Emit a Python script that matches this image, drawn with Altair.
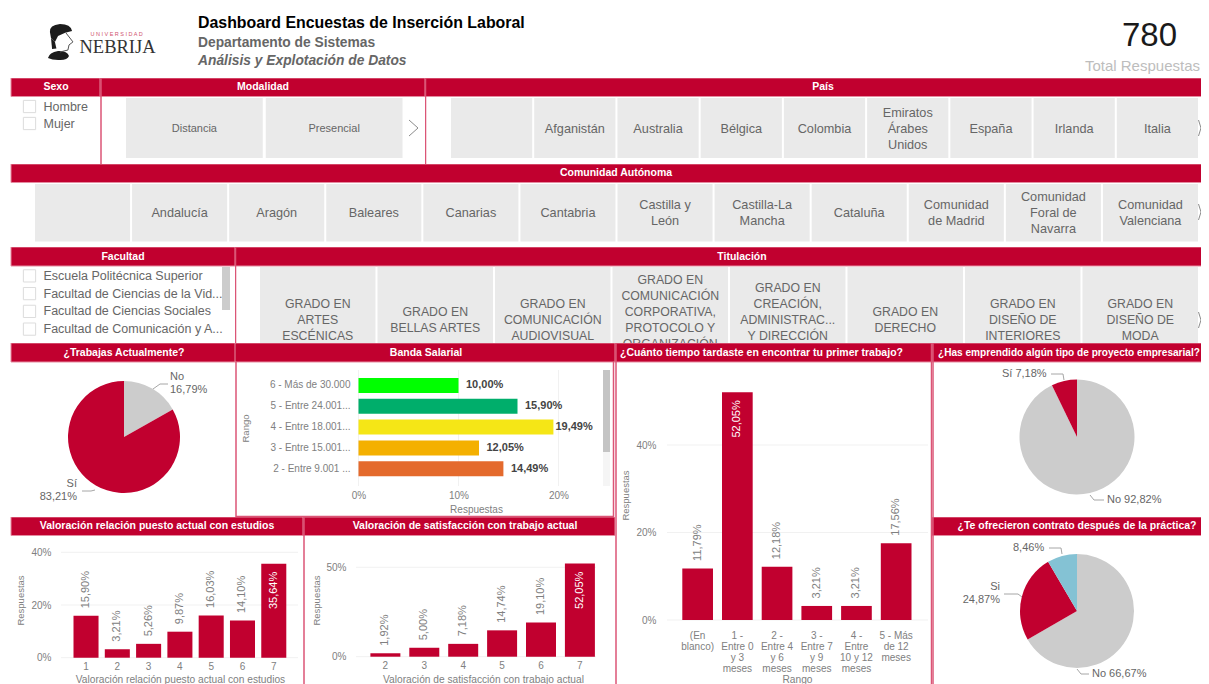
import altair as alt
import pandas as pd

FONT = "Liberation Sans"
RED = "#C1002F"
EDGE = "#E58BA0"
LINE = "#DB5576"
GREY = "#666666"
AX = "#808080"
TILE = "#EAEAEA"

sexo = ["Hombre", "Mujer"]
modalidad = ["Distancia", "Presencial"]
pais = [" ", "Afganistán", "Australia", "Bélgica", "Colombia", "Emiratos\nÁrabes\nUnidos", "España", "Irlanda", "Italia"]
comunidad = [" ", "Andalucía", "Aragón", "Baleares", "Canarias", "Cantabria", "Castilla y\nLeón", "Castilla-La\nMancha",
             "Cataluña", "Comunidad\nde Madrid", "Comunidad\nForal de\nNavarra", "Comunidad\nValenciana"]
facultad = ["Escuela Politécnica Superior", "Facultad de Ciencias de la Vid...", "Facultad de Ciencias Sociales",
            "Facultad de Comunicación y A..."]
titulacion = ["GRADO EN\nARTES\nESCÉNICAS", "GRADO EN\nBELLAS ARTES", "GRADO EN\nCOMUNICACIÓN\nAUDIOVISUAL",
              "GRADO EN\nCOMUNICACIÓN\nCORPORATIVA,\nPROTOCOLO Y\nORGANIZACIÓN\n ",
              "GRADO EN\nCREACIÓN,\nADMINISTRAC...\nY DIRECCIÓN\n ", "GRADO EN\nDERECHO",
              "GRADO EN\nDISEÑO DE\nINTERIORES", "GRADO EN\nDISEÑO DE\nMODA"]

trabajas_l = ["No", "Sí"]
trabajas_v = [16.79, 83.21]
emprend_l = ["No", "Sí"]
emprend_v = [92.82, 7.18]
contrato_l = ["No", "Si", "Otro"]
contrato_v = [66.67, 24.87, 8.46]

banda_c = ["6 - Más de 30.000", "5 - Entre 24.001...", "4 - Entre 18.001...", "3 - Entre 15.001...", "2 - Entre 9.001 ..."]
banda_v = [10.00, 15.90, 19.49, 12.05, 14.49]
banda_col = ["#00FF00", "#00AE6B", "#F5E616", "#F4B000", "#E46A2D"]

tiempo_c = ["(En\nblanco)", "1 -\nEntre 0\ny 3\nmeses", "2 -\nEntre 4\ny 6\nmeses", "3 -\nEntre 7\ny 9\nmeses",
            "4 -\nEntre\n10 y 12\nmeses", "5 - Más\nde 12\nmeses"]
tiempo_v = [11.79, 52.05, 12.18, 3.21, 3.21, 17.56]
val1_c = ["1", "2", "3", "4", "5", "6", "7"]
val1_v = [15.90, 3.21, 5.26, 9.87, 16.03, 14.10, 35.64]
val2_c = ["2", "3", "4", "5", "6", "7"]
val2_v = [1.92, 5.00, 7.18, 14.74, 19.10, 52.05]

ONE = pd.DataFrame({"k": [1]})
W = 1193  # the page leaves 1193 px for the svg; a wider one gets shrunk
RIGHT = 8 + W


def pct(v):
    return f"{v:.2f}".replace(".", ",") + "%"


def T(o, s, x, y, size=11, color=GREY, weight="normal", align="left", style="normal", font=FONT):
    return alt.Chart(ONE).mark_text(
        text=s, fontSize=size, color=color, fontWeight=weight, align=align, fontStyle=style,
        font=font, baseline="middle", clip=True,
    ).encode(x=alt.value(x - o[0]), y=alt.value(y - o[1]))


def R(o, x1, y1, x2, y2, fill, stroke=None):
    kw = {"stroke": stroke, "strokeWidth": 1} if stroke else {}
    return alt.Chart(ONE).mark_rect(color=fill, clip=True, **kw).encode(
        x=alt.value(x1 - o[0]), x2=alt.value(x2 - o[0]), y=alt.value(y1 - o[1]), y2=alt.value(y2 - o[1]))


def L(o, pts, color="#A6A6A6", w=1):
    out = []
    for (a, b), (c, d) in zip(pts[:-1], pts[1:]):
        out.append(alt.Chart(ONE).mark_rule(color=color, strokeWidth=w, clip=True).encode(
            x=alt.value(a - o[0]), x2=alt.value(c - o[0]), y=alt.value(b - o[1]), y2=alt.value(d - o[1])))
    return out


def band(o, x1, y1, x2, y2, title, tx, align="center", size=10.5):
    return [R(o, x1, y1, x2, y2, RED, EDGE),
            T(o, title, tx, (y1 + y2) / 2, size=size, color="#FFFFFF", weight="bold", align=align)]


def chevron(o, x, y, w=9, h=8):
    return L(o, [(x, y - h), (x + w, y), (x, y + h)], "#8C8C8C", 1)


def tiles(o, names, x0, x1, gap, y0, y1, cy, size=12.7, lh=16):
    step = (x1 - x0) / len(names)
    sc = alt.Scale(type="band", domain=names, range=[x0 - o[0], x1 - o[0]], paddingInner=gap / step, paddingOuter=0)
    df = pd.DataFrame({"n": names, "lines": [n.count("\n") + 1 for n in names]})
    x = alt.X("n:N", sort=None, scale=sc, axis=None)
    out = [alt.Chart(df).mark_rect(color=TILE, clip=True).encode(x=x, y=alt.value(y0 - o[1]), y2=alt.value(y1 - o[1]))]
    for k in sorted(df["lines"].unique()):
        out.append(alt.Chart(df[df["lines"] == k]).mark_text(
            fontSize=size, color=GREY, font=FONT, lineBreak="\n", lineHeight=lh, baseline="middle", clip=True,
            dy=-(int(k) - 1) * lh / 2).encode(x=x, y=alt.value(cy + 0.6 - o[1]), text="n:N"))
    return out


def checklist(o, names, y0, y1, size=12.5):
    sc = alt.Scale(type="band", domain=names, range=[y0 - o[1], y1 - o[1]], paddingInner=0, paddingOuter=0)
    df = pd.DataFrame({"n": names})
    y = alt.Y("n:N", sort=None, scale=sc, axis=None)
    return [
        alt.Chart(df).mark_point(shape="square", size=150, color="#CFCFCF", strokeWidth=1, filled=False).encode(
            x=alt.value(29.5 - o[0]), y=y),
        alt.Chart(df).mark_text(fontSize=size, color=GREY, font=FONT, align="left", baseline="middle", clip=True).encode(
            x=alt.value(43.5 - o[0]), y=y, text="n:N"),
    ]


def pie(o, labels, vals, colors, cx, cy, r):
    df = pd.DataFrame({"l": labels, "v": vals, "i": range(len(vals))})
    return alt.Chart(df).mark_arc(outerRadius=r).encode(
        theta=alt.Theta("v:Q", stack=True),
        order=alt.Order("i:Q"),
        color=alt.Color("l:N", scale=alt.Scale(domain=labels, range=colors), legend=None),
        x=alt.value(cx - o[0]), y=alt.value(cy - o[1]),
    )


def vbars(o, view_h, cats, vals, x0, x1, pad, y0, ytop, dom, ticks, gx0, gx1, lab_x, title_x, title_y, xtitle, xt_x, xt_y,
          xlab_pad=4, multiline=False):
    ys = alt.Scale(domain=dom, range=[y0 - o[1], ytop - o[1]], nice=False, zero=True)
    xs = alt.Scale(type="band", domain=cats, range=[x0 - o[0], x1 - o[0]], paddingInner=pad, paddingOuter=0)
    df = pd.DataFrame({"c": cats, "v": vals, "t": [pct(v) for v in vals]})
    top = max(vals)
    xkw = {"labelExpr": 'split(datum.label, "\\n")', "labelLineHeight": 11} if multiline else {}
    xax = alt.Axis(title=xtitle, ticks=False, domain=False, grid=False, labelAngle=0, labelColor=AX, labelFont=FONT,
                   labelFontSize=10, labelPadding=xlab_pad, labelBaseline="top", labelOverlap=False, labelLimit=400,
                   titleColor=AX, titleFont=FONT, titleFontSize=10.2, titleFontWeight="normal", titleBaseline="middle",
                   titleX=xt_x - o[0], titleY=xt_y - y0, offset=(y0 - o[1]) - view_h, **xkw)
    yax = alt.Axis(title="Respuestas", ticks=False, domain=False, grid=False, values=ticks,
                   labelExpr="datum.value + '%'", labelColor=AX, labelFont=FONT, labelFontSize=10, labelPadding=0,
                   titleColor=AX, titleFont=FONT, titleFontSize=9.5, titleFontWeight="normal", titleBaseline="middle",
                   titleX=title_x - lab_x, titleY=title_y - o[1], offset=-(lab_x - o[0]))
    x = alt.X("c:N", sort=None, scale=xs, axis=xax)
    y = alt.Y("v:Q", scale=ys, axis=yax)
    grid = alt.Chart(pd.DataFrame({"g": ticks})).mark_rule(color="#F1F1F1", strokeWidth=1).encode(
        y=alt.Y("g:Q", scale=ys, axis=yax), x=alt.value(gx0 - o[0]), x2=alt.value(gx1 - o[0]))
    bars = alt.Chart(df).mark_bar(color=RED).encode(x=x, y=y)
    out_l = alt.Chart(df[df.v < top]).mark_text(angle=270, align="left", baseline="middle", dx=7.5, fontSize=11,
                                                color=AX, font=FONT).encode(x=x, y=y, text="t:N")
    in_l = alt.Chart(df[df.v == top]).mark_text(angle=270, align="right", baseline="middle", dx=-8, fontSize=11,
                                                color="#FFFFFF", font=FONT).encode(x=x, y=y, text="t:N")
    return [grid, bars, out_l, in_l]


def panel(layers, w, h):
    flat = []
    for l in layers:
        if isinstance(l, list):
            flat.extend(l)
        else:
            flat.append(l)
    return alt.layer(*flat).properties(width=w, height=h)


def H(*c):
    return alt.hconcat(*c, spacing=0).resolve_scale(color="independent")


def V(*c):
    return alt.vconcat(*c, spacing=0).resolve_scale(color="independent")


# ---------- header
o = (8, 8)
logo = [
    alt.Chart(ONE).mark_point(shape=p, size=1296, filled=True, color="#1C1C1C", opacity=1).encode(
        x=alt.value(60 - 8), y=alt.value(43 - 8))
    for p in ["M-.56,-.61 Q-.6,-1 0,-1.06 Q.6,-1.06 .67,-.67 Q.3,-.62 -.11,-.39 L-.28,-.06 L-.5,-.28 Z",
              "M-.67,.83 Q-.6,.52 -.11,.44 Q.4,.42 .5,.72 Q.4,.98 -.1,.94 Q-.45,.94 -.67,.83 Z",
              "M-.5,-.28 L-.28,-.06 L-.2,.3 L-.44,.33 Z"]
] + [
    alt.Chart(ONE).mark_point(shape="M.33,-.56 L.72,-.06 L.5,.11 L.44,.39 L0,.5", size=1296, filled=False,
                              color="#555555", strokeWidth=1, opacity=1).encode(
        x=alt.value(60 - 8), y=alt.value(43 - 8))
]
header = panel(logo + [
    T(o, "U N I V E R S I D A D", 116.5, 34, size=5.5, color="#D0506E", align="center"),
    T(o, "NEBRIJA", 117.5, 47, size=18.5, color="#333333", align="center", font="Liberation Serif"),
    T(o, "Dashboard Encuestas de Inserción Laboral", 198, 22.5, size=15.9, color="#000000", weight="bold"),
    T(o, "Departamento de Sistemas", 198, 42.5, size=13.8, color=GREY, weight="bold"),
    T(o, "Análisis y Explotación de Datos", 198, 60.5, size=13.8, color=GREY, weight="bold", style="italic"),
    T(o, "780", 1149.5, 35.5, size=33, color="#1A1A1A", align="center"),
    T(o, "Total Respuestas", 1200, 66, size=15, color="#BDBDBD", align="right"),
], W, 70)

# ---------- row 1
o = (8, 78)
p_sexo = panel([band(o, 11, 78, 100, 96.5, "Sexo", 56), checklist(o, sexo, 98, 132)], 92, 86)
o = (100, 78)
p_mod = panel([band(o, 100, 78, 425, 96.5, "Modalidad", 263),
               tiles(o, modalidad, 126, 402.5, 3, 98, 158, 128, size=11),
               chevron(o, 409, 128),
               L(o, [(101, 78), (101, 164)], LINE, 1.5)], 325, 86)
o = (425, 78)
p_pais = panel([band(o, 425, 78, RIGHT + 5, 96.5, "País", 823),
                tiles(o, pais, 451, 1198, 2, 98, 158, 128),
                chevron(o, 1198.5, 128, w=2.5, h=8),
                L(o, [(425.5, 78), (425.5, 164)], LINE, 1.5)], RIGHT - 425, 86)
row1 = H(p_sexo, p_mod, p_pais)

# ---------- row 2
o = (8, 164)
row2 = panel([band(o, 11, 164, RIGHT + 5, 182.5, "Comunidad Autónoma", 616),
              tiles(o, comunidad, 35, 1198, 2, 184, 241.5, 212),
              chevron(o, 1198.5, 212, w=2.5, h=8)], W, 83)

# ---------- row 3
o = (8, 247)
p_fac = panel([band(o, 11, 247, 235, 266, "Facultad", 123),
               checklist(o, facultad, 267, 338),
               R(o, 222, 267, 230, 310, "#CCCCCC")], 227, 96)
o = (235, 247)
p_tit = panel([band(o, 235, 247, RIGHT + 5, 266, "Titulación", 742),
               tiles(o, titulacion, 260, 1198, 2, 267, 370, 319, size=12.3),
               chevron(o, 1198.5, 320, w=2.5, h=8),
               L(o, [(235.5, 247), (235.5, 343)], LINE, 1.5)], RIGHT - 235, 96)
row3 = H(p_fac, p_tit)

# ---------- row 4
o = (8, 343)
p_trab = panel([band(o, 11, 343, 235, 362, "¿Trabajas Actualmente?", 124),
                pie(o, trabajas_l, trabajas_v, ["#CCCCCC", RED], 124, 437, 56),
                L(o, [(153, 389), (160, 384), (168, 384)]),
                L(o, [(95, 490), (91, 491), (82, 491)]),
                T(o, "No", 170, 377), T(o, pct(trabajas_v[0]), 170, 390),
                T(o, "Sí", 77, 484, align="right"), T(o, pct(trabajas_v[1]), 77, 497, align="right")], 227, 174)

o = (235, 343)
ys_b = alt.Scale(type="band", domain=banda_c, range=[378 - 343, 476.2 - 343], paddingInner=0.28, paddingOuter=0)
xs_b = alt.Scale(domain=[0, 24], range=[358.5 - 235, 598.5 - 235], nice=False)
df_b = pd.DataFrame({"c": banda_c, "v": banda_v, "t": [pct(v) for v in banda_v]})
xa_b = alt.Axis(
    title="Respuestas", values=[0, 10, 20], labelExpr="datum.value + '%'", ticks=False, domain=False, grid=False,
    labelFlush=False, labelColor=AX, labelFont=FONT, labelFontSize=10, labelPadding=4, labelBaseline="top",
    titleColor=AX, titleFont=FONT, titleFontSize=10, titleFontWeight="normal", titleBaseline="middle",
    titleX=476 - 235, titleY=509 - 486, offset=(486 - 343) - 174)
xb = alt.X("v:Q", scale=xs_b, axis=xa_b)
yb = alt.Y("c:N", sort=None, scale=ys_b, axis=alt.Axis(
    title="Rango", ticks=False, domain=False, grid=False, labelColor=AX, labelFont=FONT, labelFontSize=10, labelPadding=0,
    labelLimit=200, titleColor=AX, titleFont=FONT, titleFontSize=9.5, titleFontWeight="normal", titleBaseline="middle",
    titleX=245 - 350, titleY=428 - 343, offset=-(350 - 235)))
p_banda = panel([
    band(o, 235, 343, 615, 362, "Banda Salarial", 426),
    alt.Chart(pd.DataFrame({"g": [0, 10, 20]})).mark_rule(color="#F1F1F1").encode(
        x=alt.X("g:Q", scale=xs_b, axis=xa_b), y=alt.value(370 - 343), y2=alt.value(486 - 343)),
    alt.Chart(df_b).mark_bar().encode(
        x=xb, y=yb, color=alt.Color("c:N", scale=alt.Scale(domain=banda_c, range=banda_col), legend=None)),
    alt.Chart(df_b[df_b.v < 19]).mark_text(align="left", baseline="middle", dx=7.5, fontSize=11, fontWeight=600,
                                           color="#444444", font=FONT).encode(x=xb, y=yb, text="t:N"),
    alt.Chart(df_b[df_b.v >= 19]).mark_text(align="left", baseline="middle", dx=2, fontSize=11, fontWeight=600,
                                            color="#444444", font=FONT).encode(x=xb, y=yb, text="t:N"),
    R(o, 603, 370, 610, 486, "#F5F5F5"),
    R(o, 603, 370, 610, 452, "#C4C4C4"),
    L(o, [(236, 362), (236, 517)], LINE, 1.5),
    L(o, [(613.5, 362), (613.5, 517)], LINE, 1.5),
    L(o, [(236, 516.5), (614, 516.5)], LINE, 1.5),
], 380, 174)
top_left = H(p_trab, p_banda)

o = (8, 517)
p_v1 = panel([band(o, 11, 517, 303, 535.5, "Valoración relación puesto actual con estudios", 157)] +
             vbars(o, 167, val1_c, val1_v, 73.5, 286.3, 0.2, 657.7, 552.3, [0, 40], [0, 20, 40], 61, 298, 51, 20, 600,
                   "Valoración relación puesto actual con estudios", 180, 679), 295, 167)
o = (303, 517)
p_v2 = panel([band(o, 303, 517, 615, 535.5, "Valoración de satisfacción con trabajo actual", 465)] +
             vbars(o, 167, val2_c, val2_v, 370.4, 594.9, 0.229, 656.7, 549.4, [0, 60], [0, 50], 356, 596, 346, 316, 600,
                   "Valoración de satisfacción con trabajo actual", 483, 679) +
             [L(o, [(304, 517), (304, 684)], LINE, 1.5)], 312, 167)
bottom_left = H(p_v1, p_v2)
left_block = V(top_left, bottom_left)

o = (615, 343)
p_tiempo = panel([band(o, 615, 343, 932, 362, "¿Cuánto tiempo tardaste en encontrar tu primer trabajo?", 620, "left")] +
                 vbars(o, 341, tiempo_c, tiempo_v, 682.3, 911.5, 0.227, 620, 357.5, [0, 60], [0, 20, 40], 667, 928, 656, 625, 495,
                       "Rango", 797, 679, xlab_pad=10, multiline=True) +
                 [L(o, [(616, 343), (616, 684)], LINE, 1.5), L(o, [(931.5, 343), (931.5, 684)], LINE, 1.5)], 317, 341)

o = (932, 343)
p_emp = panel([band(o, 932, 343, RIGHT + 5, 362, "¿Has emprendido algún tipo de proyecto empresarial?", 938, "left", size=10.1),
               pie(o, emprend_l, emprend_v, ["#CCCCCC", RED], 1077, 437, 57.5),
               L(o, [(1051, 374), (1063, 374), (1064, 380)]),
               L(o, [(1090, 495), (1094, 500), (1104, 500)]),
               T(o, "Sí " + pct(emprend_v[1]), 1002, 374), T(o, "No " + pct(emprend_v[0]), 1107, 500),
               L(o, [(933, 343), (933, 517)], LINE, 1.5)], RIGHT - 932, 174)
o = (932, 517)
p_con = panel([band(o, 932, 517, RIGHT + 5, 535.5, "¿Te ofrecieron contrato después de la práctica?", 1077),
               pie(o, contrato_l, contrato_v, ["#CCCCCC", RED, "#84C2D4"], 1077, 611, 57),
               L(o, [(1049, 548), (1061, 548), (1062, 554)]),
               L(o, [(1004, 594), (1018, 594), (1022, 597)]),
               L(o, [(1077, 669), (1081, 674), (1089, 674)]),
               T(o, pct(contrato_v[2]), 1013, 548),
               T(o, "Si", 1000, 587, align="right"), T(o, pct(contrato_v[1]), 1000, 600, align="right"),
               T(o, "No " + pct(contrato_v[0]), 1092, 674),
               L(o, [(933, 517), (933, 684)], LINE, 1.5)], RIGHT - 932, 167)
right_block = V(p_emp, p_con)

row4 = H(left_block, p_tiempo, right_block)

chart = V(header, row1, row2, row3, row4).properties(padding=0).configure_view(stroke=None)
chart.save("out.html", embed_options={"renderer": "svg", "actions": False})
